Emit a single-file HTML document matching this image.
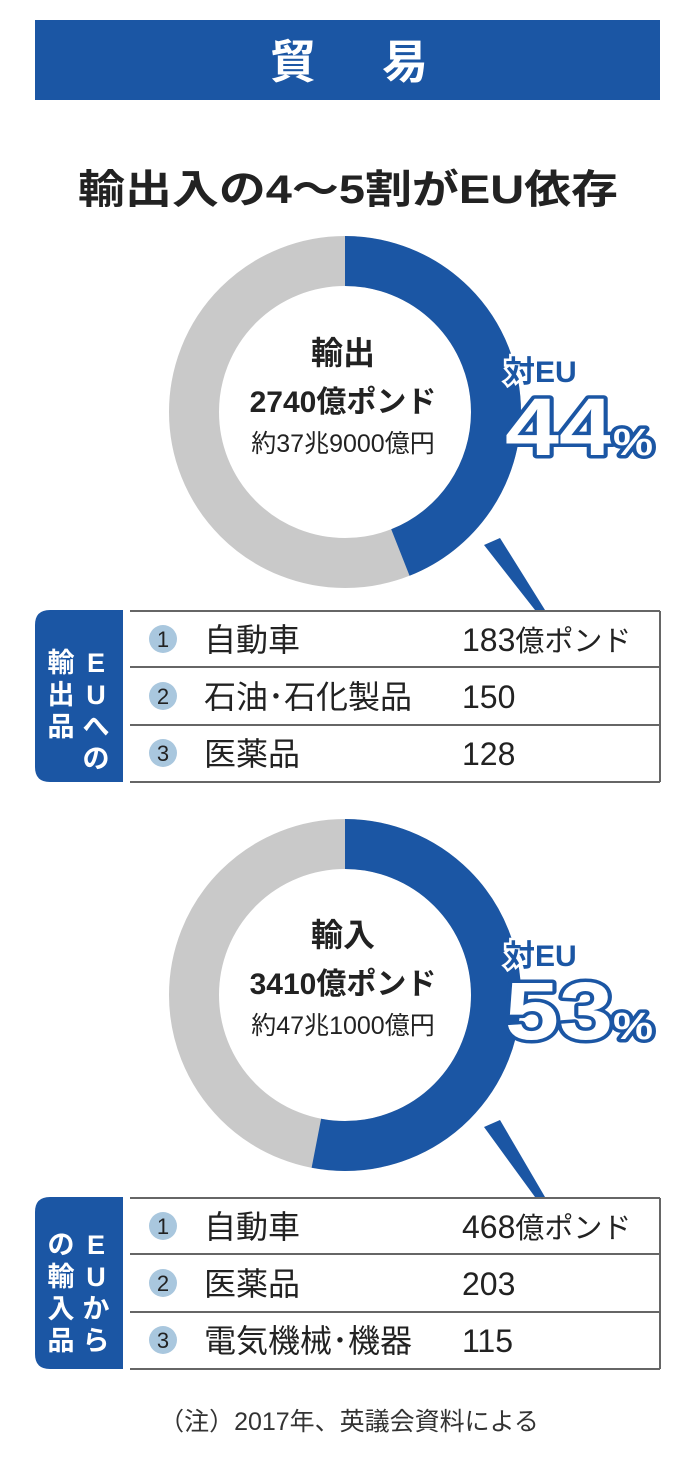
<!DOCTYPE html>
<html><head><meta charset="utf-8"><style>
html,body{margin:0;padding:0;background:#fff;}
svg{display:block;}
text{font-family:"Liberation Sans","Noto Sans CJK JP",sans-serif;}
</style></head><body>
<svg width="698" height="1467" viewBox="0 0 698 1467" xmlns="http://www.w3.org/2000/svg">
<rect x="35" y="20" width="625" height="80" fill="#1b56a4"/>
<text x="270" y="78" font-size="46" font-weight="bold" fill="#fff" textLength="158" lengthAdjust="spacing">貿 易</text>
<text x="78" y="203" font-size="40" font-weight="bold" fill="#222" textLength="540" lengthAdjust="spacingAndGlyphs">輸出入の4～5割がEU依存</text>

<!-- donut 1 -->
<g transform="translate(345,412)">
<circle r="151" fill="none" stroke="#c9c9c9" stroke-width="50"/>
<circle r="151" fill="none" stroke="#1b56a4" stroke-width="50" stroke-dasharray="417.5 2000" transform="rotate(-90)"/>
</g>
<polygon points="484,545 500,538 545,610 535,610" fill="#1b56a4"/>
<text x="343" y="364" font-size="32" font-weight="bold" fill="#222" text-anchor="middle">輸出</text>
<text x="343" y="412" font-size="30" font-weight="bold" fill="#222" text-anchor="middle">2740億ポンド</text>
<text x="343" y="452" font-size="25" fill="#222" text-anchor="middle">約37兆9000億円</text>
<text x="505" y="382" font-size="30" font-weight="bold" fill="#1b56a4" stroke="#fff" stroke-width="5" paint-order="stroke">対EU</text>
<text x="505" y="455" font-size="82" font-weight="bold" fill="#fff" stroke="#1b56a4" stroke-width="7" paint-order="stroke" stroke-linejoin="round" textLength="148" lengthAdjust="spacingAndGlyphs">44<tspan font-size="38">%</tspan></text>

<!-- table 1 -->
<path d="M123,610 H50 Q35,610 35,625 V767 Q35,782 50,782 H123 Z" fill="#1b56a4"/>
<text font-size="27" font-weight="bold" fill="#fff" text-anchor="middle"><tspan x="96" y="672">E</tspan><tspan x="96" y="704">U</tspan><tspan x="96" y="736">へ</tspan><tspan x="96" y="768">の</tspan><tspan x="61" y="672">輸</tspan><tspan x="61" y="704">出</tspan><tspan x="61" y="736">品</tspan></text>
<g stroke="#666" stroke-width="2" fill="none"><line x1="130" y1="611" x2="660" y2="611"/><line x1="130" y1="667" x2="660" y2="667"/><line x1="130" y1="725" x2="660" y2="725"/><line x1="130" y1="782" x2="660" y2="782"/><line x1="660" y1="611" x2="660" y2="782"/></g>
<g fill="#a9c7de"><circle cx="163" cy="639" r="14"/><circle cx="163" cy="696" r="14"/><circle cx="163" cy="753" r="14"/></g>
<g font-size="22" fill="#222" text-anchor="middle"><text x="163" y="647">1</text><text x="163" y="704">2</text><text x="163" y="761">3</text></g>
<g font-size="32" fill="#222"><text x="204" y="651">自動車</text><text x="204" y="708">石油･石化製品</text><text x="204" y="765">医薬品</text>
<text x="462" y="651">183<tspan font-size="29">億ポンド</tspan></text><text x="462" y="708">150</text><text x="462" y="765">128</text></g>

<!-- donut 2 -->
<g transform="translate(345,995)">
<circle r="151" fill="none" stroke="#c9c9c9" stroke-width="50"/>
<circle r="151" fill="none" stroke="#1b56a4" stroke-width="50" stroke-dasharray="503 2000" transform="rotate(-90)"/>
</g>
<polygon points="484,1127 500,1120 545,1197 535,1197" fill="#1b56a4"/>
<text x="343" y="946" font-size="32" font-weight="bold" fill="#222" text-anchor="middle">輸入</text>
<text x="343" y="994" font-size="30" font-weight="bold" fill="#222" text-anchor="middle">3410億ポンド</text>
<text x="343" y="1034" font-size="25" fill="#222" text-anchor="middle">約47兆1000億円</text>
<text x="505" y="966" font-size="30" font-weight="bold" fill="#1b56a4" stroke="#fff" stroke-width="5" paint-order="stroke">対EU</text>
<text x="505" y="1039" font-size="82" font-weight="bold" fill="#fff" stroke="#1b56a4" stroke-width="7" paint-order="stroke" stroke-linejoin="round" textLength="148" lengthAdjust="spacingAndGlyphs">53<tspan font-size="38">%</tspan></text>

<!-- table 2 -->
<path d="M123,1197 H50 Q35,1197 35,1212 V1354 Q35,1369 50,1369 H123 Z" fill="#1b56a4"/>
<text font-size="27" font-weight="bold" fill="#fff" text-anchor="middle"><tspan x="96" y="1254">E</tspan><tspan x="96" y="1286">U</tspan><tspan x="96" y="1318">か</tspan><tspan x="96" y="1350">ら</tspan><tspan x="61" y="1254">の</tspan><tspan x="61" y="1286">輸</tspan><tspan x="61" y="1318">入</tspan><tspan x="61" y="1350">品</tspan></text>
<g stroke="#666" stroke-width="2" fill="none"><line x1="130" y1="1198" x2="660" y2="1198"/><line x1="130" y1="1254" x2="660" y2="1254"/><line x1="130" y1="1312" x2="660" y2="1312"/><line x1="130" y1="1369" x2="660" y2="1369"/><line x1="660" y1="1198" x2="660" y2="1369"/></g>
<g fill="#a9c7de"><circle cx="163" cy="1226" r="14"/><circle cx="163" cy="1283" r="14"/><circle cx="163" cy="1340" r="14"/></g>
<g font-size="22" fill="#222" text-anchor="middle"><text x="163" y="1234">1</text><text x="163" y="1291">2</text><text x="163" y="1348">3</text></g>
<g font-size="32" fill="#222"><text x="204" y="1238">自動車</text><text x="204" y="1295">医薬品</text><text x="204" y="1352">電気機械･機器</text>
<text x="462" y="1238">468<tspan font-size="29">億ポンド</tspan></text><text x="462" y="1295">203</text><text x="462" y="1352">115</text></g>

<text x="349" y="1430" font-size="25" fill="#333" text-anchor="middle">（注）2017年、英議会資料による</text>
</svg>
</body></html>
